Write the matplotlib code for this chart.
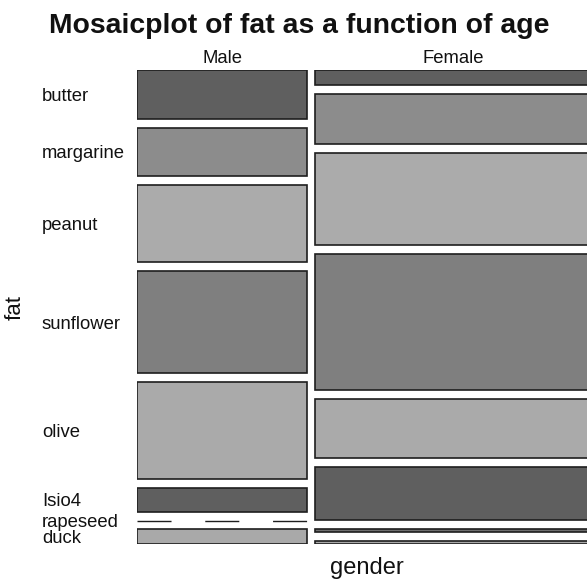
import matplotlib.pyplot as plt
from matplotlib.patches import Rectangle
from matplotlib.transforms import blended_transform_factory

plt.rcParams['font.family'] = ['Liberation Sans', 'DejaVu Sans']
plt.rcParams['lines.scale_dashes'] = False

# contingency table: fat used for cooking by gender
genders = ['Male', 'Female']
fats = ['butter', 'margarine', 'peanut', 'sunflower', 'olive', 'Isio4', 'rapeseed', 'duck']
male_counts = [10, 10, 16, 21, 20, 5, 0, 3]
female_counts = [5, 17, 31, 46, 20, 18, 1, 1]
fat_colors = ['#5f5f5f', '#8c8c8c', '#ababab', '#7f7f7f', '#aaaaaa', '#5f5f5f', '#6f6f6f', '#a9a9a9']

W, H = 587, 579
fig = plt.figure(figsize=(W / 100, H / 100), dpi=100)

# mosaic area in pixels (the right column runs a little past the edge)
left, right, top, bottom = 137.3, 592.0, 70.3, 544.0
ax = fig.add_axes([left / W, 1 - bottom / H, (right - left) / W, (bottom - top) / H])
ax.set_xlim(0, 1)
ax.set_ylim(1, 0)
ax.axis('off')

xgap = 7.6 / (right - left)
ygap = 8.8 / (bottom - top)

table = [male_counts, female_counts]
total = sum(male_counts) + sum(female_counts)
usable_w = 1 - xgap * (len(genders) - 1)
usable_h = 1 - ygap * (len(fats) - 1)

x0 = 0.0
col_info = []
for gname, counts in zip(genders, table):
    n = sum(counts)
    w = usable_w * n / total
    y0 = 0.0
    centers = []
    for count, color in zip(counts, fat_colors):
        h = usable_h * count / n
        if count == 0:
            ax.plot([x0, x0 + w], [y0, y0], color='#1e1e1e', lw=1.0,
                    dashes=(24.5, 24.3), solid_capstyle='butt', dash_capstyle='butt')
        else:
            ax.add_patch(Rectangle((x0, y0), w, h, facecolor=color,
                                   edgecolor='#1e1e1e', linewidth=1.2))
        centers.append(y0 + h / 2)
        y0 += h + ygap
    col_info.append((x0, w, centers))
    x0 += w + xgap

# column labels above the mosaic
for gname, (cx, w, _) in zip(genders, col_info):
    ax.annotate(gname, (cx + w / 2, 0), xytext=(0, 5.5), textcoords='offset points',
                ha='center', va='baseline', fontsize=13.3, color='#111111')

# row labels beside the first column
label_tf = blended_transform_factory(fig.transFigure, ax.transData)
for fname, cy in zip(fats, col_info[0][2]):
    ax.text(42 / W, cy, fname, transform=label_tf, ha='left', va='center_baseline',
            fontsize=13.3, color='#111111')

fig.text(299 / W, 1 - 26 / H, 'Mosaicplot of fat as a function of age',
         ha='center', va='center', fontsize=20.4, fontweight='bold', color='#111111')
fig.text(367 / W, 1 - 568 / H, 'gender', ha='center', va='center', fontsize=17, color='#111111')
fig.text(15 / W, 1 - 307 / H, 'fat', ha='center', va='center', rotation=90,
         fontsize=16, color='#111111')

fig.savefig('out.png', dpi=100)
